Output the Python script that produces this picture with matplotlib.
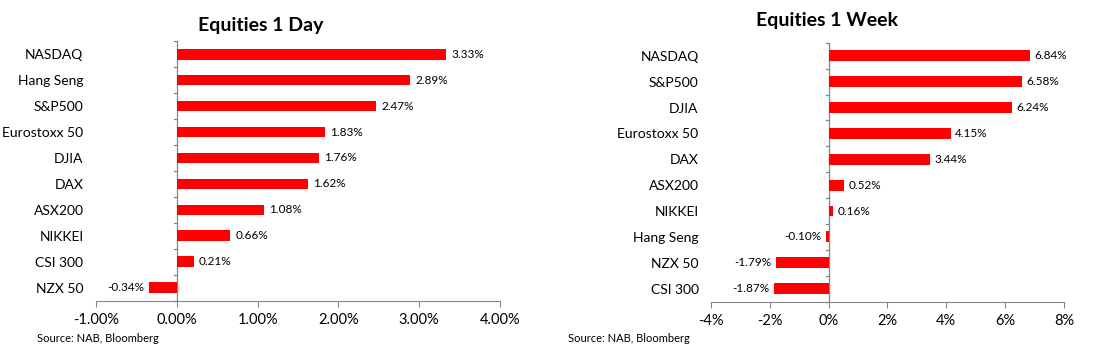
import matplotlib
matplotlib.use("Agg")
import matplotlib.pyplot as plt
from matplotlib.ticker import FuncFormatter

plt.rcParams['font.family'] = ['Lato', 'DejaVu Sans']

day_names = ["NASDAQ", "Hang Seng", "S&P500", "Eurostoxx 50", "DJIA", "DAX",
             "ASX200", "NIKKEI", "CSI 300", "NZX 50"]
day_values = [3.33, 2.89, 2.47, 1.83, 1.76, 1.62, 1.08, 0.66, 0.21, -0.34]
day_ticks = [-1, 0, 1, 2, 3, 4]

week_names = ["NASDAQ", "S&P500", "DJIA", "Eurostoxx 50", "DAX", "ASX200",
              "NIKKEI", "Hang Seng", "NZX 50", "CSI 300"]
week_values = [6.84, 6.58, 6.24, 4.15, 3.44, 0.52, 0.16, -0.10, -1.79, -1.87]
week_ticks = [-4, -2, 0, 2, 4, 6, 8]

RED = "#FF0000"
GREY = "#868686"

fig = plt.figure(figsize=(11.02, 3.54), dpi=100)

def draw(ax, names, values, ticks, tickfmt, title, title_x, title_y, src_x):
    n = len(names)
    ys = list(range(n))[::-1]
    ax.barh(ys, values, height=0.42, color=RED, zorder=2)
    ax.set_xlim(ticks[0], ticks[-1])
    ax.set_ylim(-0.5, n - 0.5)
    span = ticks[-1] - ticks[0]
    for y, v in zip(ys, values):
        off = span * 0.013
        if v >= 0:
            ax.text(v + off, y, f"{v:.2f}%", va="center", ha="left", fontsize=8.5)
        else:
            ax.text(v - off, y, f"{v:.2f}%", va="center", ha="right", fontsize=8.5)
    for s in ["top", "right", "left"]:
        ax.spines[s].set_visible(False)
    ax.spines["bottom"].set_color(GREY)
    ax.axvline(0, color=GREY, lw=0.9, zorder=1)
    ax.set_xticks(ticks)
    ax.xaxis.set_major_formatter(FuncFormatter(tickfmt))
    ax.tick_params(axis="x", length=4, color=GREY, labelsize=10.5, pad=5)
    ax.set_yticks(ys)
    ax.set_yticklabels(names, fontsize=10)
    ax.tick_params(axis="y", length=0, pad=9)
    bw = span * 0.008
    for b in [i - 0.5 for i in range(n + 1)]:
        ax.plot([-bw, 0], [b, b], color=GREY, lw=0.9, clip_on=False)
    fig.text(title_x, title_y, title, ha="center", va="center", fontsize=14, fontweight="bold")
    fig.text(src_x, 0.045, "Source: NAB, Bloomberg", ha="left", va="center", fontsize=8)

ax1 = fig.add_axes([0.0871, 0.150, 0.3666, 0.734])
draw(ax1, day_names, day_values, day_ticks, lambda v, p: f"{v:.2f}%",
     "Equities 1 Day", 0.237, 0.928, 0.034)
ax2 = fig.add_axes([0.6452, 0.148, 0.3203, 0.731])
draw(ax2, week_names, week_values, week_ticks, lambda v, p: f"{v:.0f}%",
     "Equities 1 Week", 0.750, 0.943, 0.515)

fig.savefig("out.png", dpi=100)
